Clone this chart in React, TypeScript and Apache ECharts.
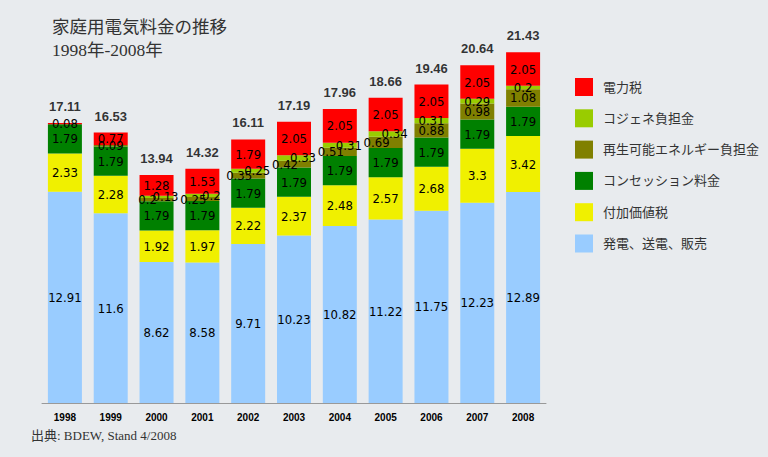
import React, { useEffect, useRef } from "react";
import * as echarts from "echarts";

const years = ["1998", "1999", "2000", "2001", "2002", "2003", "2004", "2005", "2006", "2007", "2008"];
const generation = [12.91, 11.6, 8.62, 8.58, 9.71, 10.23, 10.82, 11.22, 11.75, 12.23, 12.89];
const vat = [2.33, 2.28, 1.92, 1.97, 2.22, 2.37, 2.48, 2.57, 2.68, 3.3, 3.42];
const concession = [1.79, 1.79, 1.79, 1.79, 1.79, 1.79, 1.79, 1.79, 1.79, 1.79, 1.79];
const renewable = [0, 0.09, 0.2, 0.25, 0.35, 0.42, 0.51, 0.69, 0.88, 0.98, 1.08];
const chp = [0, 0, 0.13, 0.2, 0.25, 0.33, 0.31, 0.34, 0.31, 0.29, 0.2];
const electricityTax = [0.08, 0.77, 1.28, 1.53, 1.79, 2.05, 2.05, 2.05, 2.05, 2.05, 2.05];
const totals = [17.11, 16.53, 13.94, 14.32, 16.11, 17.19, 17.96, 18.66, 19.46, 20.64, 21.43];

const names = {
  tax: "電力税",
  chp: "コジェネ負担金",
  ren: "再生可能エネルギー負担金",
  con: "コンセッション料金",
  vat: "付加価値税",
  gen: "発電、送電、販売",
};

const SERIF = '"Liberation Serif", "Noto Sans CJK JP", serif';
const SANS = '"Liberation Sans", Arial, sans-serif';
const NARROW = '"Liberation Sans Narrow", "Arial Narrow", "DejaVu Sans Condensed", "Liberation Sans", sans-serif';

export default function App() {
  const ref = useRef<HTMLDivElement>(null);
  useEffect(() => {
    if (!ref.current) return;
    const chart = echarts.init(ref.current, null, { renderer: "svg" });
    const shift = (i: number) => renewable[i] < 0.75 && chp[i] > 0;
    const labelBase = {
      show: true,
      position: "inside",
      color: "#000",
      fontSize: 13,
      fontFamily: NARROW,
      formatter: (p: any) => (p.value === 0 ? "" : String(p.value)),
    };
    const mk = (name: string, data: any[], color: string) => ({
      name,
      type: "bar",
      stack: "total",
      barWidth: 34,
      data,
      itemStyle: { color },
      label: labelBase,
    });
    const renData = renewable.map((v, i) =>
      shift(i) ? { value: v, label: { offset: [-9, 0] } } : v
    );
    const chpData = chp.map((v, i) =>
      shift(i) ? { value: v, label: { offset: [9, 0] } } : v
    );
    chart.setOption({
      animation: false,
      backgroundColor: "#E8EBEE",
      title: {
        text: "家庭用電気料金の推移\n1998年-2008年",
        left: 47,
        top: 10,
        textStyle: {
          fontFamily: SERIF,
          fontSize: 17.5,
          fontWeight: "normal",
          color: "#333",
          lineHeight: 23,
        },
      },
      legend: {
        orient: "vertical",
        left: 575,
        top: 78,
        padding: 0,
        itemWidth: 18,
        itemHeight: 18,
        itemGap: 13.3,
        icon: "rect",
        data: [names.tax, names.chp, names.ren, names.con, names.vat, names.gen],
        textStyle: {
          fontFamily: SERIF,
          fontSize: 13,
          color: "#333",
          padding: [0, 0, 0, 5],
        },
      },
      graphic: [
        {
          type: "text",
          left: 31,
          top: 429,
          style: {
            text: "出典: BDEW, Stand 4/2008",
            font: `13px ${SERIF}`,
            fill: "#333",
          },
        },
      ],
      grid: { left: 42, right: 222, top: 43, bottom: 54 },
      xAxis: {
        type: "category",
        data: years,
        axisLine: { lineStyle: { color: "#999" } },
        axisTick: { length: 3, lineStyle: { color: "#999" } },
        axisLabel: {
          color: "#000",
          fontWeight: "bold",
          fontSize: 10,
          fontFamily: SANS,
          margin: 9,
        },
      },
      yAxis: { type: "value", min: 0, max: 22, show: false },
      series: [
        mk(names.gen, generation, "#99CCFF"),
        mk(names.vat, vat, "#F0F000"),
        mk(names.con, concession, "#008000"),
        mk(names.ren, renData, "#808000"),
        mk(names.chp, chpData, "#99CC00"),
        mk(names.tax, electricityTax, "#FF0000"),
        {
          name: "total",
          type: "scatter",
          data: totals,
          symbolSize: 0,
          silent: true,
          label: {
            show: true,
            position: "top",
            distance: 10,
            color: "#000",
            fontWeight: "bold",
            fontSize: 13,
            fontFamily: SANS,
            formatter: (p: any) => p.value.toFixed(2),
          },
        },
      ],
    });
    return () => chart.dispose();
  }, []);
  return (
    <div
      ref={ref}
      style={{ position: "fixed", left: 0, top: 0, width: 768, height: 457 }}
    />
  );
}
